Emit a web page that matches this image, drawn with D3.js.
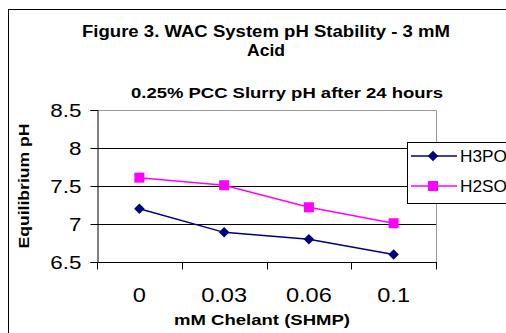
<!DOCTYPE html>
<html>
<head>
<meta charset="utf-8">
<script src="https://cdn.jsdelivr.net/npm/d3@7"></script>
<style>
  body { margin: 0; background: #fff; }
  text { font-family: "Liberation Sans", Arial, sans-serif; }
</style>
</head>
<body>
<div id="chart"></div>
<script>
// chart data
const categories = ["0", "0.03", "0.06", "0.1"];
const h3po4 = [7.2, 6.89, 6.8, 6.6];
const h2so4 = [7.61, 7.51, 7.22, 7.01];
const yTicks = [6.5, 7, 7.5, 8, 8.5];
const seriesNames = ["H3PO4", "H2SO4"];

const width = 506, height = 333;
const plot = { left: 97, top: 110, right: 436, bottom: 262 };
const stretch = 1.18; // the old picture has wide glyphs

const svg = d3.select("#chart")
  .append("svg")
  .attr("width", width)
  .attr("height", height);

// outer chart border (runs off the right and bottom)
svg.append("rect")
  .attr("x", 8.5).attr("y", 9.5)
  .attr("width", 600).attr("height", 400)
  .attr("fill", "#fff")
  .attr("stroke", "#000");

const x = d3.scaleBand()
  .domain(categories)
  .range([plot.left, plot.right]);

const y = d3.scaleLinear()
  .domain([6.5, 8.5])
  .range([plot.bottom, plot.top]);

// gridlines
svg.append("g")
  .selectAll("line")
  .data(yTicks.filter(d => d > 6.5 && d < 8.5))
  .enter()
  .append("line")
  .attr("x1", plot.left).attr("x2", plot.right)
  .attr("y1", d => Math.round(y(d)) + 0.5)
  .attr("y2", d => Math.round(y(d)) + 0.5)
  .attr("stroke", "#000");

// gray plot border top and right
svg.append("path")
  .attr("d", `M${plot.left},${plot.top + 0.5}H${plot.right + 0.5}V${plot.bottom}`)
  .attr("fill", "none")
  .attr("stroke", "#999");

// y axis
const yAxis = svg.append("g")
  .attr("transform", `translate(${plot.left + 0.5},0)`)
  .call(d3.axisLeft(y).tickValues(yTicks).tickSize(7).tickFormat(d3.format("")));
yAxis.selectAll("line").attr("stroke", "#000");
yAxis.select(".domain").attr("stroke", "#000");
yAxis.selectAll("text")
  .attr("font-size", 19)
  .attr("font-family", "Liberation Sans, Arial, sans-serif")
  .attr("fill", "#000")
  .attr("x", -16 / stretch)
  .attr("dy", "0.36em")
  .attr("transform", `scale(${stretch},1)`);

// x axis, ticks on band edges
const xAxis = svg.append("g")
  .attr("transform", `translate(0,${plot.bottom + 0.5})`);
xAxis.append("line")
  .attr("x1", plot.left).attr("x2", plot.right + 1)
  .attr("stroke", "#000");
xAxis.selectAll(".tk")
  .data(categories.concat(["end"]))
  .enter()
  .append("line")
  .attr("class", "tk")
  .attr("x1", (d, i) => Math.round(plot.left + i * x.bandwidth()) + 0.5)
  .attr("x2", (d, i) => Math.round(plot.left + i * x.bandwidth()) + 0.5)
  .attr("y1", 0).attr("y2", 7)
  .attr("stroke", "#000");
xAxis.selectAll(".lbl")
  .data(categories)
  .enter()
  .append("text")
  .attr("class", "lbl")
  .attr("transform", d => `translate(${x(d) + x.bandwidth() / 2},39) scale(${stretch},1)`)
  .attr("text-anchor", "middle")
  .attr("font-size", 20)
  .text(d => d);

// series
const line = d3.line()
  .x((d, i) => x(categories[i]) + x.bandwidth() / 2)
  .y(d => y(d));

svg.append("path")
  .datum(h2so4)
  .attr("d", line)
  .attr("fill", "none")
  .attr("stroke", "#ff00ff")
  .attr("stroke-width", 1.5);

svg.append("path")
  .datum(h3po4)
  .attr("d", line)
  .attr("fill", "none")
  .attr("stroke", "#000080")
  .attr("stroke-width", 1.5);

svg.selectAll(".sq")
  .data(h2so4)
  .enter()
  .append("rect")
  .attr("class", "sq")
  .attr("x", (d, i) => x(categories[i]) + x.bandwidth() / 2 - 5)
  .attr("y", d => y(d) - 5)
  .attr("width", 10).attr("height", 10)
  .attr("fill", "#ff00ff");

const diamond = d3.symbol().type(d3.symbolDiamond2).size(70);
svg.selectAll(".dm")
  .data(h3po4)
  .enter()
  .append("path")
  .attr("class", "dm")
  .attr("transform", (d, i) => `translate(${x(categories[i]) + x.bandwidth() / 2},${y(d)})`)
  .attr("d", diamond)
  .attr("fill", "#000080");

// titles
svg.append("text")
  .attr("x", 266).attr("y", 37)
  .attr("text-anchor", "middle")
  .attr("font-size", 16).attr("font-weight", "bold")
  .attr("textLength", 368).attr("lengthAdjust", "spacingAndGlyphs")
  .text("Figure 3. WAC System pH Stability - 3 mM");

svg.append("text")
  .attr("x", 266).attr("y", 56)
  .attr("text-anchor", "middle")
  .attr("font-size", 16).attr("font-weight", "bold")
  .attr("textLength", 38).attr("lengthAdjust", "spacingAndGlyphs")
  .text("Acid");

svg.append("text")
  .attr("x", 287).attr("y", 98)
  .attr("text-anchor", "middle")
  .attr("font-size", 15).attr("font-weight", "bold")
  .attr("textLength", 312).attr("lengthAdjust", "spacingAndGlyphs")
  .text("0.25% PCC Slurry pH after 24 hours");

svg.append("text")
  .attr("transform", "translate(29,186) rotate(-90)")
  .attr("text-anchor", "middle")
  .attr("font-size", 15).attr("font-weight", "bold")
  .attr("textLength", 125).attr("lengthAdjust", "spacingAndGlyphs")
  .text("Equilibrium pH");

svg.append("text")
  .attr("x", 262).attr("y", 325)
  .attr("text-anchor", "middle")
  .attr("font-size", 15).attr("font-weight", "bold")
  .attr("textLength", 176).attr("lengthAdjust", "spacingAndGlyphs")
  .text("mM Chelant (SHMP)");

// legend
const legend = svg.append("g").attr("transform", "translate(407,142)");
legend.append("rect")
  .attr("x", 0.5).attr("y", 0.5)
  .attr("width", 200).attr("height", 61)
  .attr("fill", "#fff")
  .attr("stroke", "#000");

const items = legend.selectAll(".item")
  .data(seriesNames)
  .enter()
  .append("g")
  .attr("transform", (d, i) => `translate(0,${14 + i * 30})`);

items.append("line")
  .attr("x1", 4).attr("x2", 50)
  .attr("stroke", (d, i) => i === 0 ? "#000080" : "#ff00ff")
  .attr("stroke-width", 1.5);

items.filter((d, i) => i === 0)
  .append("path")
  .attr("transform", "translate(26,0)")
  .attr("d", diamond)
  .attr("fill", "#000080");

items.filter((d, i) => i === 1)
  .append("rect")
  .attr("x", 21).attr("y", -5)
  .attr("width", 10).attr("height", 10)
  .attr("fill", "#ff00ff");

items.append("text")
  .attr("transform", "translate(53,6) scale(1.08,1)")
  .attr("font-size", 16)
  .text(d => d);
</script>
</body>
</html>
